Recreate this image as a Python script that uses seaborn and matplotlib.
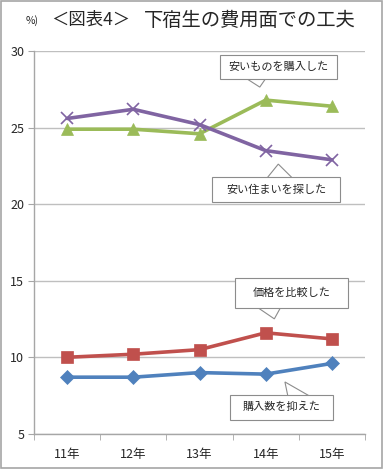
import numpy as np
import pandas as pd
import seaborn as sns
import matplotlib.pyplot as plt
from matplotlib.patches import Rectangle, Polygon
from matplotlib.ticker import FixedLocator

sns.set_style("white")
plt.rcParams['font.family'] = ['Noto Sans CJK JP', 'DejaVu Sans']

years = ["11年", "12年", "13年", "14年", "15年"]
kounyuusuu = [8.7, 8.7, 9.0, 8.9, 9.6]      # 購入数を抑えた
kakaku = [10.0, 10.2, 10.5, 11.6, 11.2]      # 価格を比較した
yasuimono = [24.9, 24.9, 24.6, 26.8, 26.4]   # 安いものを購入した
sumai = [25.6, 26.2, 25.2, 23.5, 22.9]       # 安い住まいを探した

series = [
    ("購入数を抑えた", kounyuusuu, "#4F81BD", "D", 7),
    ("価格を比較した", kakaku, "#C0504D", "s", 8),
    ("安いものを購入した", yasuimono, "#9BBB59", "^", 9),
    ("安い住まいを探した", sumai, "#8064A2", "x", 8),
]

fig = plt.figure(figsize=(3.83, 4.69), dpi=100)
ax = fig.add_axes([0.089, 0.075, 0.864, 0.816])

x = np.arange(len(years))
for name, vals, col, mk, ms in series:
    df = pd.DataFrame({"x": x, "v": vals})
    sns.lineplot(data=df, x="x", y="v", ax=ax, color=col, linewidth=2.6,
                 marker=mk, markersize=ms, markeredgecolor=col,
                 markeredgewidth=1.2 if mk == "x" else 0.5)

ax.set_xlim(-0.5, 4.5)
ax.set_ylim(5, 30)
ax.set_yticks([5, 10, 15, 20, 25, 30])
ax.set_xticks(x)
ax.set_xticklabels(years, fontsize=9)
ax.xaxis.set_minor_locator(FixedLocator(np.arange(-0.5, 5, 1)))
ax.tick_params(axis="x", which="major", length=0, pad=10)
ax.tick_params(axis="x", which="minor", length=4, color="#A6A6A6", direction="out", bottom=True)
ax.tick_params(axis="y", length=4, color="#A6A6A6", direction="out", left=True, labelsize=9, pad=3)
ax.set_xlabel("")
ax.set_ylabel("")
ax.grid(axis="y", color="#BFBFBF", linewidth=1)
for s in ["top", "right"]:
    ax.spines[s].set_visible(False)
for s in ["left", "bottom"]:
    ax.spines[s].set_color("#A6A6A6")
    ax.spines[s].set_linewidth(1)
ax.set_axisbelow(True)

# callouts: text, box (x0, x1, y0, y1), pointer triangle (tip, base-left, base-right)
callouts = [
    ("安いものを購入した", (2.31, 4.07, 28.17, 29.74),
     [(2.91, 27.65), (2.64, 28.4), (3.03, 28.4)]),
    ("安い住まいを探した", (2.19, 4.12, 20.14, 21.78),
     [(3.19, 22.62), (2.99, 21.55), (3.44, 21.55)]),
    ("価格を比較した", (2.54, 4.24, 13.22, 15.18),
     [(3.13, 12.51), (2.81, 13.45), (3.25, 13.45)]),
    ("購入数を抑えた", (2.46, 4.02, 5.91, 7.55),
     [(3.29, 8.39), (3.34, 7.35), (3.71, 7.35)]),
]
for txt, (x0, x1, y0, y1), tri in callouts:
    ax.add_patch(Polygon(tri, closed=True, fc="white", ec="#8C8C8C", lw=0.8, zorder=5))
    ax.add_patch(Rectangle((x0, y0), x1 - x0, y1 - y0, fc="white", ec="#8C8C8C",
                           lw=0.8, zorder=6))
    ax.text((x0 + x1) / 2, (y0 + y1) / 2, txt, ha="center", va="center",
            fontsize=8, zorder=7)

fig.text(0.066, 0.957, "%)", fontsize=7.5, va="center", ha="left")
fig.text(0.133, 0.957, "＜図表4＞", fontsize=12.5, va="center", ha="left")
fig.text(0.377, 0.957, "下宿生の費用面での工夫", fontsize=13.9, va="center", ha="left")

border = plt.Rectangle((0.003, 0.003), 0.994, 0.994, transform=fig.transFigure,
                       fill=False, ec="#A6A6A6", lw=1.2)
fig.patches.append(border)

fig.savefig("out.png", dpi=100)
